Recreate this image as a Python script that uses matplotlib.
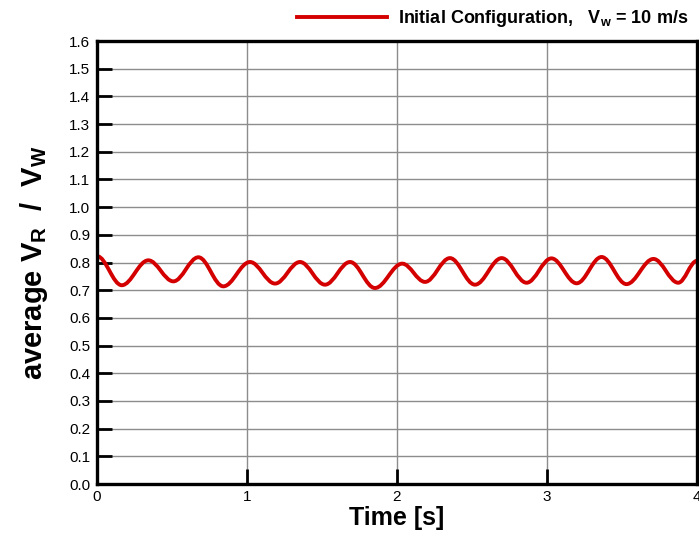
import numpy as np
import matplotlib
matplotlib.use("Agg")
import matplotlib.pyplot as plt
from matplotlib.path import Path
from matplotlib.patches import PathPatch
from matplotlib.lines import Line2D

plt.rcParams['font.family'] = ['Liberation Sans', 'DejaVu Sans']
plt.rcParams['mathtext.fontset'] = 'custom'
plt.rcParams['mathtext.rm'] = 'Liberation Sans:bold'
plt.rcParams['mathtext.it'] = 'Liberation Sans:bold'
plt.rcParams['mathtext.bf'] = 'Liberation Sans:bold'

# turning points of the averaged V_R / V_W signal (time [s], value)
peak_time = [0.0, 0.165, 0.342, 0.509, 0.676, 0.842, 1.02, 1.187, 1.353, 1.52,
             1.687, 1.853, 2.035, 2.187, 2.353, 2.52, 2.698, 2.864, 3.03,
             3.198, 3.364, 3.53, 3.71, 3.875, 4.0]
peak_value = [0.823, 0.718, 0.808, 0.732, 0.819, 0.714, 0.802, 0.724, 0.802,
              0.720, 0.802, 0.708, 0.796, 0.730, 0.816, 0.720, 0.816, 0.727,
              0.815, 0.725, 0.820, 0.722, 0.813, 0.727, 0.806]

legend_label = r'Initial Configuration,   V$_{w}$ = 10 m/s'
x_ticks = [0, 1, 2, 3, 4]
y_ticks = np.round(np.arange(0, 1.61, 0.1), 1)

fig = plt.figure(figsize=(6.99, 5.33), dpi=100)
ax = fig.add_axes([0.1388, 0.0919, 0.9971 - 0.1388, 0.923 - 0.0919])

# smooth curve through the turning points (flat tangents at each extremum)
verts = [(peak_time[0], peak_value[0])]
codes = [Path.MOVETO]
for i in range(1, len(peak_time)):
    t0, t1 = peak_time[i - 1], peak_time[i]
    y0, y1 = peak_value[i - 1], peak_value[i]
    dt = t1 - t0
    verts += [(t0 + dt * 0.36, y0), (t1 - dt * 0.36, y1), (t1, y1)]
    codes += [Path.CURVE4] * 3
red = '#d40000'
ax.add_patch(PathPatch(Path(verts, codes), facecolor='none', edgecolor=red,
                       lw=2.8, zorder=3, capstyle='round', joinstyle='round'))

ax.set_xlim(0, 4)
ax.set_ylim(0, 1.6)
ax.set_xticks(x_ticks)
ax.set_yticks(y_ticks)
ax.set_yticklabels([f'{v:.1f}' for v in y_ticks])
ax.tick_params(direction='in', length=11, width=2, labelsize=11, color='black')
ax.tick_params(axis='x', pad=4)
ax.tick_params(axis='y', pad=5)
ax.grid(True, color='#8c8c8c', lw=1.0)
ax.set_axisbelow(True)
for s in ax.spines.values():
    s.set_linewidth(2.4)
    s.set_zorder(4)

ax.set_xlabel('Time [s]', fontsize=18, fontweight='bold', labelpad=2)
ax.set_ylabel(r'average V$_{R}$  /  V$_{W}$', fontsize=21, fontweight='bold', labelpad=14)

handle = Line2D([], [], color=red, lw=2.8)
fig.legend([handle], [legend_label], loc='upper right', bbox_to_anchor=(1.008, 1.015),
           frameon=False, prop={'weight': 'bold', 'size': 13}, handlelength=5.0,
           handletextpad=0.6)

fig.savefig('out.png', dpi=100)
